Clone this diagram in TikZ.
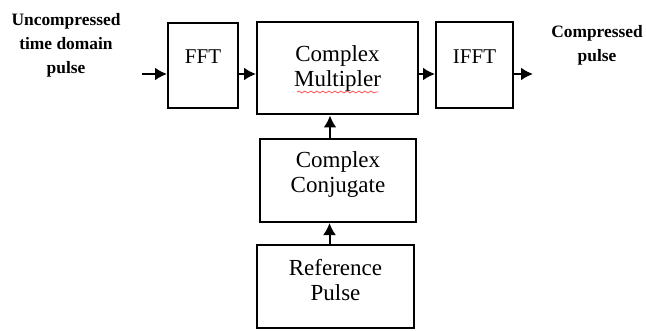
\documentclass[tikz,border=0pt]{standalone}
\usepackage{fontspec}
\setmainfont{Liberation Serif}
\usetikzlibrary{arrows.meta}
\usetikzlibrary{decorations.pathmorphing}

\tikzset{
	blk/.style = {draw, line width=1pt, align=center, inner sep=0pt, font=\fontsize{11.5}{12.5}\selectfont},
	fftblk/.style = {blk, font=\fontsize{10.5}{12.5}\selectfont, text height=7.3pt, text depth=9pt},
	lbl/.style = {align=center, font=\fontsize{8.7}{12}\selectfont\bfseries},
	arr/.style = {-{Latex[length=6pt,width=6.5pt]}, line width=1pt}
}

\begin{document}
\begin{tikzpicture}[x=0.5pt,y=-0.5pt]
	\useasboundingbox (0,0) rectangle (646,331);

	\node[fftblk, minimum width=35pt, minimum height=42.5pt] (fft) at (203,65.5) {FFT};
	\node[blk, minimum width=80.5pt, minimum height=46pt] (cm) at (337.5,68.5) {Complex\\Multipler};
	\node[fftblk, minimum width=38.5pt, minimum height=43pt] (ifft) at (474.5,65.5) {IFFT};
	\node[blk, minimum width=78pt, minimum height=41.5pt, text depth=8.3pt] (cc) at (338,180.5) {Complex\\Conjugate};
	\node[blk, minimum width=78.5pt, minimum height=41.5pt, text depth=6.3pt] (rp) at (335.5,286.5) {Reference\\Pulse};

	\node[lbl] (inlbl) at (66,45) {Uncompressed\\time domain\\pulse};
	\node[lbl] (outlbl) at (597,45) {Compressed\\pulse};

	\coordinate (src) at (142,74);
	\coordinate (dst) at (533,74);

	\draw[arr] (src) -- (src -| fft.west);
	\draw[arr] (fft.east |- src) -- (cm.west |- src);
	\draw[arr] (cm.east |- src) -- (ifft.west |- src);
	\draw[arr] (ifft.east |- src) -- (dst);

	\draw[arr] ([xshift=-4pt]cc.north) -- ([xshift=-4pt]cc.north |- cm.south);
	\draw[arr] ([xshift=-3pt]rp.north) -- ([xshift=-3pt]rp.north |- cc.south);

	\draw[red!70, line width=0.4pt, decorate, decoration={snake, amplitude=0.5pt, segment length=3pt}] (297,92) -- (378,92);

\end{tikzpicture}
\end{document}
